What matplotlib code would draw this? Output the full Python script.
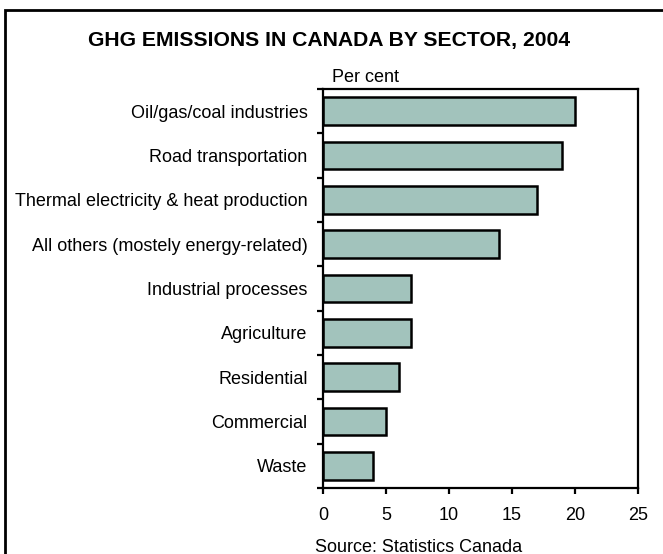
import matplotlib.pyplot as plt
from matplotlib.patches import Rectangle

plt.rcParams['font.family'] = ['Liberation Sans', 'DejaVu Sans']

sectors = ['Oil/gas/coal industries', 'Road transportation',
           'Thermal electricity & heat production',
           'All others (mostely energy-related)', 'Industrial processes',
           'Agriculture', 'Residential', 'Commercial', 'Waste']
shares = [20, 19, 17, 14, 7, 7, 6, 5, 4]
x_ticks = [0, 5, 10, 15, 20, 25]

fig = plt.figure(figsize=(6.63, 5.54), dpi=100)
ax = fig.add_axes([323 / 663, 1 - 488 / 554, 315 / 663, 399 / 554])

pos = list(range(len(sectors)))
ax.barh(pos, shares, height=0.63, color='#a2c3bc', edgecolor='black',
        linewidth=1.8)
ax.set_ylim(len(sectors) - 0.5, -0.5)
ax.set_xlim(0, 25)

ax.set_yticks(pos)
ax.set_yticklabels(sectors, fontsize=13)
ax.tick_params(axis='y', length=0, pad=11)
# category boundary ticks on the y axis
ax.set_yticks([p - 0.5 for p in range(len(sectors) + 1)], minor=True)
ax.tick_params(axis='y', which='minor', length=4, width=1.6, direction='out')

ax.set_xticks(x_ticks)
ax.tick_params(axis='x', labelsize=13, length=4.5, width=1.6, pad=9.5,
               direction='out')
for s in ax.spines.values():
    s.set_linewidth(1.6)

fig.text(329 / 663, 1 - 46 / 554, 'GHG EMISSIONS IN CANADA BY SECTOR, 2004',
         ha='center', va='baseline', fontsize=15.2, fontweight='bold')
fig.text(332 / 663, 1 - 82 / 554, 'Per cent', ha='left', va='baseline',
         fontsize=13)
fig.text(315 / 663, 1 - 547 / 554, 'Source: Statistics Canada', ha='left',
         va='center', fontsize=13)

# outer frame, running off the right and bottom edges
fig.patches.append(Rectangle((5 / 663, -0.05), 1.0, 1 - 10 / 554 + 0.05,
                             transform=fig.transFigure, fill=False,
                             edgecolor='black', linewidth=2))

fig.savefig('out.png', dpi=100)
